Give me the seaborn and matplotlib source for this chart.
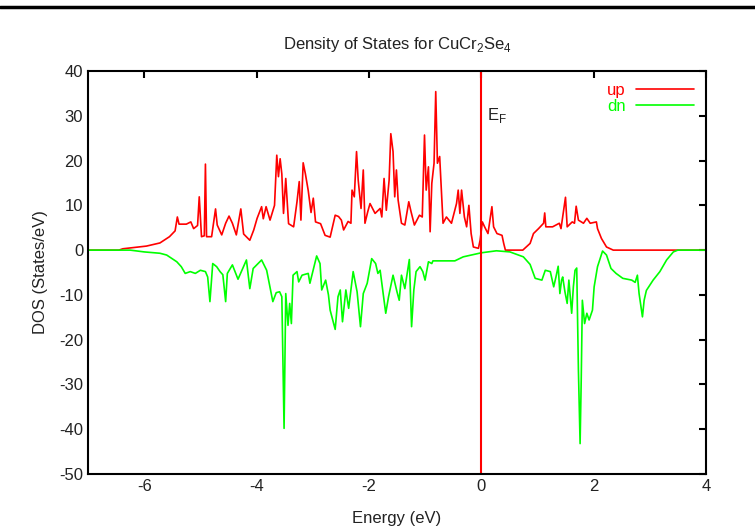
import numpy as np
import pandas as pd
import seaborn as sns
import matplotlib
matplotlib.use("Agg")
import matplotlib.pyplot as plt
from matplotlib.lines import Line2D

sns.set_style("white")
plt.rcParams["font.family"] = ["Liberation Sans", "DejaVu Sans"]
plt.rcParams["axes.unicode_minus"] = False

# spin-up DOS (energy in eV, states/eV)
up_energy = [-7.0, -6.45, -6.38, -5.96, -5.72, -5.55, -5.45, -5.41, -5.38, -5.25,
             -5.17, -5.12, -5.05, -5.02, -4.98, -4.93, -4.91, -4.89, -4.80, -4.73,
             -4.70, -4.62, -4.55, -4.49, -4.43, -4.36, -4.28, -4.23, -4.12, -4.05,
             -3.99, -3.91, -3.88, -3.83, -3.76, -3.68, -3.64, -3.61, -3.58, -3.55,
             -3.52, -3.48, -3.43, -3.34, -3.28, -3.24, -3.21, -3.17, -3.13, -3.08,
             -3.03, -2.99, -2.95, -2.86, -2.78, -2.69, -2.60, -2.54, -2.49, -2.45,
             -2.37, -2.32, -2.30, -2.26, -2.22, -2.19, -2.14, -2.10, -2.07, -2.02,
             -1.98, -1.89, -1.80, -1.77, -1.73, -1.69, -1.64, -1.61, -1.57, -1.54,
             -1.51, -1.48, -1.42, -1.36, -1.29, -1.25, -1.19, -1.10, -1.05, -1.01,
             -0.98, -0.94, -0.91, -0.88, -0.84, -0.81, -0.78, -0.74, -0.71, -0.68,
             -0.62, -0.53, -0.44, -0.41, -0.38, -0.35, -0.30, -0.26, -0.22, -0.18,
             -0.14, -0.05, -0.02, 0.02, 0.06, 0.12, 0.19, 0.22, 0.28, 0.37,
             0.40, 0.43, 0.74, 0.87, 0.93, 1.02, 1.11, 1.13, 1.15, 1.27,
             1.39, 1.42, 1.50, 1.53, 1.62, 1.66, 1.69, 1.73, 1.82, 1.88,
             1.94, 2.05, 2.07, 2.14, 2.23, 2.35, 4.0]
up_dos = [0.0, 0.0, 0.3, 0.9, 1.6, 3.0, 4.3, 7.4, 5.8, 5.8,
          6.3, 4.8, 5.5, 11.9, 3.0, 3.2, 19.2, 3.0, 3.0, 9.2,
          5.6, 3.4, 6.0, 7.6, 6.0, 3.4, 9.2, 3.6, 2.2, 4.5,
          7.1, 9.7, 7.0, 9.7, 6.7, 10.0, 21.2, 16.4, 20.4, 17.0,
          8.2, 16.0, 5.9, 5.2, 10.8, 15.3, 6.7, 19.5, 17.0, 13.3,
          8.4, 11.6, 6.3, 5.9, 3.3, 2.9, 7.8, 7.5, 6.7, 4.5,
          6.4, 6.0, 13.4, 11.9, 22.0, 15.6, 9.3, 17.9, 6.0, 8.6,
          10.4, 8.2, 9.3, 7.4, 16.0, 8.9, 15.6, 26.0, 22.0, 11.9,
          17.9, 11.2, 6.0, 5.6, 10.8, 8.6, 5.6, 7.8, 7.4, 25.7,
          13.4, 18.6, 4.1, 14.9, 19.4, 35.4, 19.4, 20.9, 13.4, 6.0,
          7.4, 6.0, 10.4, 13.4, 8.2, 13.4, 7.4, 5.2, 10.0, 3.7,
          0.7, 0.4, 2.2, 6.3, 5.2, 3.7, 9.7, 5.2, 3.7, 3.3,
          1.5, 0.0, 0.0, 1.5, 3.7, 4.8, 6.0, 8.3, 5.2, 5.2,
          6.0, 4.8, 11.8, 5.2, 6.3, 6.0, 9.8, 6.7, 6.0, 7.1,
          6.0, 6.3, 4.8, 2.6, 0.7, 0.0, 0.0]

# spin-down DOS (plotted negative)
dn_energy = [-7.0, -6.25, -6.0, -5.72, -5.60, -5.42, -5.34, -5.27, -5.18, -5.09,
             -5.00, -4.91, -4.87, -4.83, -4.78, -4.71, -4.65, -4.60, -4.55, -4.52,
             -4.43, -4.33, -4.18, -4.12, -4.06, -3.91, -3.82, -3.71, -3.65, -3.59,
             -3.55, -3.51, -3.48, -3.44, -3.41, -3.38, -3.35, -3.28, -3.25, -3.19,
             -3.08, -3.05, -2.93, -2.87, -2.84, -2.77, -2.72, -2.69, -2.60, -2.55,
             -2.51, -2.47, -2.41, -2.36, -2.28, -2.21, -2.15, -2.10, -2.03, -1.95,
             -1.88, -1.84, -1.80, -1.70, -1.65, -1.57, -1.50, -1.46, -1.42, -1.36,
             -1.28, -1.24, -1.20, -1.16, -1.09, -1.04, -1.00, -0.94, -0.88, -0.86,
             -0.47, -0.32, 0.0, 0.27, 0.51, 0.75, 0.87, 0.96, 1.08, 1.14,
             1.23, 1.29, 1.33, 1.37, 1.40, 1.43, 1.45, 1.49, 1.53, 1.56,
             1.61, 1.64, 1.67, 1.70, 1.73, 1.76, 1.78, 1.80, 1.84, 1.88,
             1.92, 1.98, 2.01, 2.07, 2.16, 2.23, 2.31, 2.40, 2.52, 2.68,
             2.74, 2.78, 2.81, 2.87, 2.90, 2.94, 3.06, 3.18, 3.30, 3.42,
             3.50, 4.0]
dn_dos = [0.0, 0.0, -0.4, -0.7, -1.1, -2.6, -3.7, -5.2, -4.8, -5.2,
          -4.5, -4.8, -6.0, -11.5, -3.0, -3.7, -4.8, -5.5, -11.5, -5.2,
          -3.3, -6.5, -2.2, -8.6, -4.1, -2.2, -4.5, -11.5, -9.5, -9.3,
          -10.4, -39.8, -9.7, -16.8, -11.9, -16.4, -5.6, -4.8, -7.1, -5.6,
          -5.2, -7.4, -1.3, -3.0, -8.9, -6.7, -10.0, -13.4, -17.7, -10.4,
          -8.9, -16.0, -8.9, -13.0, -4.8, -9.3, -17.1, -9.7, -7.4, -1.9,
          -3.0, -5.2, -4.5, -14.1, -10.4, -5.6, -9.3, -11.2, -5.6, -8.6,
          -2.1, -17.1, -8.9, -4.8, -3.7, -4.8, -6.7, -2.6, -3.0, -2.4,
          -2.4, -1.5, -0.6, -0.15, -0.4, -1.5, -3.2, -6.3, -6.7, -4.5,
          -4.8, -8.2, -6.0, -3.6, -9.7, -6.7, -6.0, -9.3, -11.9, -6.7,
          -14.1, -8.2, -4.5, -4.0, -26.8, -43.2, -29.0, -11.2, -16.4, -14.1,
          -15.6, -13.4, -8.2, -3.7, -0.2, -1.1, -4.1, -5.2, -6.3, -6.7,
          -7.2, -5.6, -9.7, -14.9, -11.2, -9.0, -6.7, -4.8, -2.2, -0.4,
          0.0, 0.0]

fermi_energy = 0.0

df = pd.concat([
    pd.DataFrame({"Energy": up_energy, "DOS": up_dos, "spin": "up"}),
    pd.DataFrame({"Energy": dn_energy, "DOS": dn_dos, "spin": "dn"}),
])

fig = plt.figure(figsize=(7.55, 5.31), dpi=100)
ax = fig.add_axes([0.1166, 0.1073, 0.8184, 0.759])

sns.lineplot(data=df, x="Energy", y="DOS", hue="spin", hue_order=["up", "dn"],
             palette={"up": "#ff0000", "dn": "#00ff00"}, estimator=None,
             sort=False, linewidth=1.2, ax=ax)
ax.axvline(fermi_energy, color="#ff0000", linewidth=1.5)
ax.text(fermi_energy + 0.1, 30, "E$_\\mathregular{F}$", fontsize=12,
        va="center", ha="left", color="#222222")

ax.set_xlim(-7, 4)
ax.set_ylim(-50, 40)
ax.set_xticks(np.arange(-6, 5, 2))
ax.set_yticks(np.arange(-50, 41, 10))
ax.tick_params(direction="in", length=5, width=1.5, labelsize=12,
               top=True, right=True, colors="black", labelcolor="#222222")
for s in ax.spines.values():
    s.set_linewidth(1.5)
    s.set_color("black")

ax.set_title("Density of States for CuCr$_\\mathregular{2}$Se$_\\mathregular{4}$",
             fontsize=12, pad=16, color="#222222")
ax.set_xlabel("Energy (eV)", fontsize=12, color="#222222", labelpad=12)
ax.set_ylabel("DOS (States/eV)", fontsize=12, color="#222222", labelpad=8)

ax.legend(loc="upper right", frameon=False, markerfirst=False,
          labelcolor="linecolor", handlelength=3.5, fontsize=12,
          borderaxespad=0.3, labelspacing=0.1, handletextpad=0.6)

fig.add_artist(Line2D([0, 1], [0.987, 0.987], transform=fig.transFigure,
                      color="black", linewidth=2.5))

fig.savefig("out.png", dpi=100)
